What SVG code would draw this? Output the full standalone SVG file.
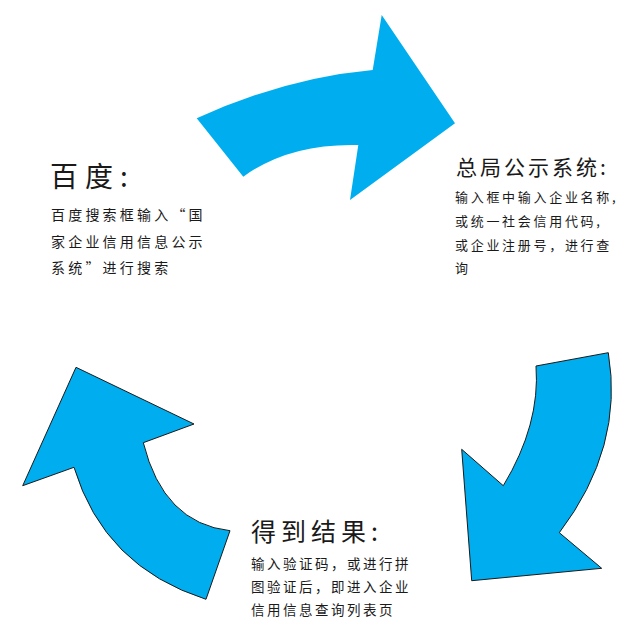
<svg xmlns="http://www.w3.org/2000/svg" width="640" height="633" viewBox="0 0 640 633">
<style>
.arrow{fill:#00AEEF}
.stroked{stroke:#1a1a1a;stroke-width:1}
text{font-family:"Noto Sans CJK SC","Noto Sans",sans-serif;fill:#1a1a1a}
.t1{font-size:28px;letter-spacing:7px}
.t2{font-size:21px;letter-spacing:3px}
.t3{font-size:25px;letter-spacing:5px}
.b1{font-size:14px;letter-spacing:3.2px}
.b2{font-size:13px;letter-spacing:2.7px}
.b3{font-size:13.5px;letter-spacing:2.5px}
</style>
<rect width="640" height="633" fill="#ffffff"/>
<g id="connectors">
<path class="arrow" d="M196.7,118.3 Q285.3,77.9 372.7,70 L381.7,15 L455,123.3 L350,200 L358.3,145 Q289.2,143.2 243.3,176.7 Z"/>
<path class="arrow stroked" d="M536,366 L608.3,352.7 Q624.2,447.3 559.3,532.7 L601.7,568.3 L471.7,580.7 L461.7,449.3 L503.3,485.7 Q540.4,424.2 536,366 Z"/>
<path class="arrow stroked" d="M230,530.7 L206,599.3 Q104,566.7 74,467.3 L22.7,485.7 L76,367.3 L194,424 L143.3,442.7 Q163.4,523.3 230,530.7 Z"/>
</g>
<g id="node-baidu">
<text class="t1" x="50" y="187">百度:</text>
<text class="b1" x="51" y="220">百度搜索框输入“国</text>
<text class="b1" x="51" y="246.5">家企业信用信息公示</text>
<text class="b1" x="51" y="273">系统”进行搜索</text>
</g>
<g id="node-zongju">
<text class="t2" x="456" y="175">总局公示系统:</text>
<text class="b2" x="455" y="202">输入框中输入企业名称,</text>
<text class="b2" x="455" y="226">或统一社会信用代码,</text>
<text class="b2" x="455" y="250">或企业注册号，进行查</text>
<text class="b2" x="455" y="273">询</text>
</g>
<g id="node-result">
<text class="t3" x="251" y="541">得到结果:</text>
<text class="b3" x="251" y="569">输入验证码，或进行拼</text>
<text class="b3" x="251" y="592">图验证后，即进入企业</text>
<text class="b3" x="251" y="615">信用信息查询列表页</text>
</g>
</svg>
